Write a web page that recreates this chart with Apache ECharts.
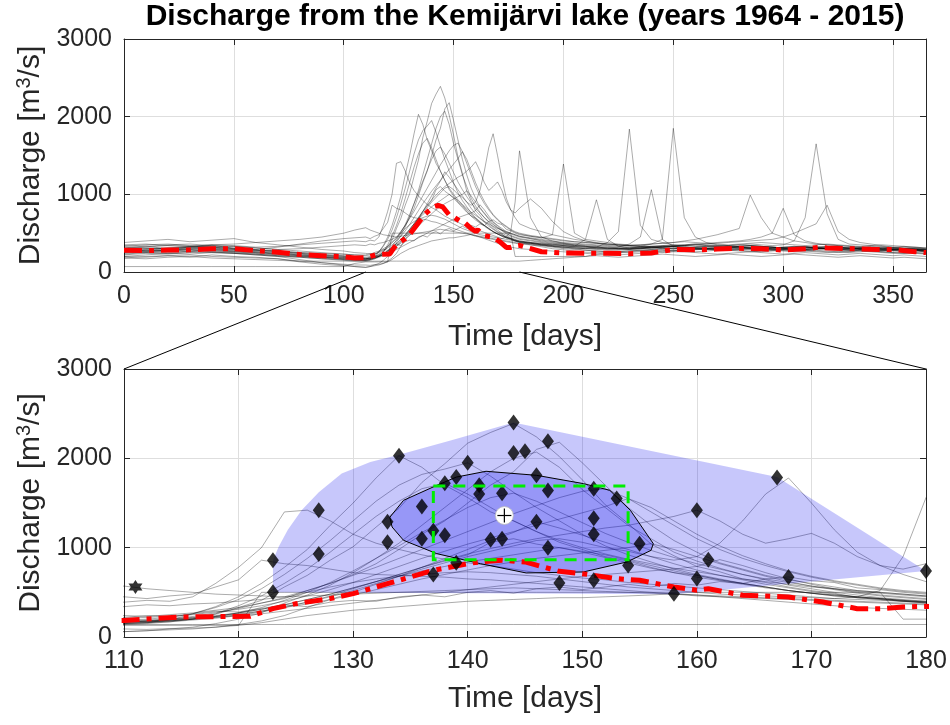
<!DOCTYPE html>
<html><head><meta charset="utf-8">
<script src="https://cdn.jsdelivr.net/npm/echarts@6/dist/echarts.min.js"></script>
<style>html,body{margin:0;padding:0;background:#fff}#c{width:950px;height:725px}</style>
</head><body><div id="c"></div>
<script>
// ---------- data ----------
const titleText = 'Discharge from the Kemijärvi lake (years 1964 - 2015)';
const xTicksTop = [0, 365, 50];
const xTicksBottom = [110, 180, 10];
const yTicks = [0, 3000, 1000];

const days = [0,10,20,30,40,50,60,70,80,90,100,105,
110,112,114,116,118,120,122,124,126,128,130,132,134,136,138,140,142,144,146,148,150,152,154,156,158,160,162,164,166,168,170,172,174,176,178,180,
185,190,195,200,205,210,215,220,225,230,235,240,245,250,255,260,265,270,275,280,285,290,295,300,305,310,315,320,325,330,335,340,345,350,355,360,365];

const y01 = [310,335,295,320,345,305,280,265,240,215,205,185,
175,170,195,215,255,330,410,560,690,860,1010,1230,1440,1730,1940,2170,2290,2390,2240,2020,1760,1480,1270,1040,910,790,730,650,610,560,520,490,440,430,400,380,
350,325,300,285,270,255,250,245,260,275,280,290,305,310,300,285,295,305,310,320,305,300,285,300,315,320,305,300,290,300,310,295,290,280,290,300,285];
const y02 = [250,270,280,260,290,270,250,230,210,190,170,160,
150,160,190,260,340,450,600,780,980,1250,1500,1780,2030,1900,1700,1560,1400,1300,1180,1060,980,900,850,780,720,690,640,600,560,520,490,470,450,430,410,390,
370,350,330,310,300,280,270,260,250,250,260,270,270,280,290,300,300,310,320,310,300,290,300,290,280,290,300,310,300,290,280,270,280,290,280,270,260];
const y03 = [380,400,420,390,410,430,380,350,320,290,270,250,
240,230,250,270,300,330,380,430,520,600,700,820,980,1150,1300,1500,1700,1850,2100,2180,1950,1700,1450,1250,1080,950,830,760,690,640,600,560,520,500,480,460,
430,400,380,360,340,330,320,310,300,290,300,310,320,330,340,350,340,330,340,350,360,350,340,350,400,700,1650,750,420,360,350,340,330,320,330,320,310];
const y04 = [200,220,240,230,250,240,220,200,160,120,90,70,
60,70,90,110,150,200,270,380,470,580,720,880,1050,1250,1450,1650,1850,2000,2070,1900,1650,1450,1250,1100,950,850,770,700,640,580,540,500,470,440,420,400,
380,360,340,320,310,300,320,380,520,1840,600,420,380,350,330,310,300,290,280,290,300,290,280,270,260,270,280,270,260,250,260,270,260,250,240,250,240];
const y05 = [290,300,310,330,320,300,290,270,250,230,210,200,
190,200,220,260,330,420,540,700,880,1080,1300,1520,1700,1820,1880,1950,1800,1620,1450,1300,1150,1020,920,840,760,700,650,600,560,520,490,470,450,430,410,400,
380,360,350,340,330,320,310,300,300,310,330,360,420,1850,700,450,380,350,340,330,320,310,300,310,320,330,320,310,300,290,300,310,300,290,280,290,280];
const y06 = [350,360,340,330,350,340,320,330,350,370,390,400,
390,410,400,450,600,780,1000,1400,1420,1300,1150,1050,980,920,870,830,800,760,720,690,660,640,610,590,570,550,530,510,490,470,450,430,420,410,400,390,
380,370,360,350,340,330,320,310,300,300,310,320,330,320,310,300,290,300,310,320,310,300,290,280,290,300,310,300,290,280,290,300,310,300,290,280,270];
const y07 = [260,280,270,290,300,280,260,240,220,200,180,170,
160,170,180,200,220,250,290,340,390,450,520,600,680,760,830,900,960,1020,1080,1100,1060,1000,960,900,860,900,1050,1300,1600,1780,1500,1200,950,800,700,620,
560,520,480,450,420,400,380,360,350,340,330,320,310,300,300,310,320,330,340,350,340,330,320,310,300,290,300,310,320,310,300,290,280,290,300,290,280];
const y08 = [300,290,310,320,300,290,280,260,240,220,200,190,
180,190,200,220,240,270,310,360,420,480,550,620,700,780,860,930,990,1050,1100,1140,1180,1220,1250,1300,1350,1420,1300,1150,1050,1100,1160,1050,900,800,760,820,
940,820,650,520,450,400,370,350,340,330,320,310,300,300,310,320,330,320,310,300,290,300,310,320,330,320,310,300,290,300,310,320,310,300,290,300,290];
const y09 = [330,350,360,340,320,330,310,290,300,320,340,350,
340,360,350,370,380,400,420,450,520,600,690,780,880,980,1080,1180,1280,1380,1470,1560,1630,1660,1550,1400,1250,1100,980,880,800,730,670,620,580,540,510,490,
460,440,480,1390,500,420,400,380,360,350,340,330,320,330,340,350,340,330,320,330,340,330,320,310,320,330,320,310,300,310,320,330,320,310,300,310,300];
const y10 = [220,240,230,250,260,240,230,210,190,170,150,140,
140,150,170,200,260,350,460,600,760,950,1150,1350,1520,1660,1720,1600,1450,1300,1180,1080,1000,930,870,820,770,730,690,650,620,590,560,540,520,500,480,460,
440,420,400,380,370,360,350,340,330,340,350,360,370,380,400,420,450,480,520,560,990,700,500,450,400,380,360,350,340,330,320,310,300,290,280,290,280];
const y11 = [180,200,210,190,220,200,190,170,130,100,80,70,
60,70,80,90,110,140,180,240,330,420,500,590,680,780,880,980,1080,1170,1290,1220,1140,1060,980,900,820,750,690,640,590,550,510,480,450,430,410,390,
370,350,340,330,330,420,930,420,330,310,300,290,280,270,280,290,300,290,280,270,260,270,280,290,280,270,260,250,260,270,280,270,260,250,240,250,240];
const y12 = [270,260,280,300,290,270,260,240,220,200,190,180,
170,180,190,210,230,260,290,330,370,420,470,530,590,650,700,750,800,840,880,910,940,970,1000,1045,980,900,820,750,680,620,570,530,490,460,440,420,
400,380,360,340,320,310,300,300,320,360,450,1060,420,330,310,300,290,280,290,300,310,320,310,300,290,280,290,300,310,300,290,280,270,280,290,280,270];
const y13 = [320,310,300,320,330,310,290,320,360,400,430,440,
450,430,460,480,560,640,860,820,800,760,720,700,690,680,670,650,640,620,600,580,560,540,520,500,480,460,450,440,430,420,410,400,390,380,370,360,
350,340,330,320,310,300,300,290,290,300,310,320,330,340,350,360,370,380,390,400,420,450,500,820,480,400,370,350,340,330,320,310,300,310,320,310,300];
const y14 = [240,260,250,270,280,260,240,220,200,180,160,150,
150,160,170,190,210,240,280,330,390,460,540,620,700,780,850,920,1060,1100,1040,1000,960,920,860,800,740,690,640,600,560,520,490,460,440,420,400,390,
370,350,330,320,310,300,290,280,280,290,300,310,320,330,340,350,360,370,380,390,400,410,420,450,500,560,620,860,520,420,380,360,340,320,310,300,290];
const y15 = [200,190,210,220,200,190,180,170,140,120,100,90,
90,85,95,100,110,130,160,200,240,270,300,320,340,360,380,400,410,420,430,440,440,450,460,470,485,470,450,430,410,390,370,350,330,320,310,300,
290,280,270,260,250,240,230,220,220,230,240,250,250,260,260,250,240,230,240,250,260,250,240,230,240,250,240,230,220,230,240,230,220,210,220,210,200];
const y16 = [260,250,270,280,260,250,230,210,200,190,180,170,
170,180,200,230,270,320,380,440,500,560,610,650,680,700,720,730,720,700,680,650,620,590,560,540,520,500,480,470,460,450,440,430,450,520,900,1560,
700,450,400,370,350,330,320,310,300,290,300,310,320,330,320,310,300,290,300,310,320,330,320,310,300,290,300,310,320,310,300,290,280,290,300,290,280];
const y17 = [70,70,70,70,70,70,70,70,70,70,70,110,
130,130,130,130,130,130,500,500,500,500,500,500,500,500,500,500,500,500,500,500,500,500,500,500,500,500,500,500,500,500,500,500,500,500,200,200,
200,200,200,200,200,200,230,250,260,270,280,270,260,270,280,290,300,290,280,290,300,310,300,290,280,290,300,290,280,270,280,290,280,270,260,270,260];
const y18 = [180,170,190,200,180,170,160,150,140,140,140,140,
140,140,140,140,140,140,140,140,140,140,140,140,140,140,140,140,140,140,140,140,140,140,140,140,140,140,140,140,140,140,140,140,140,140,140,140,
150,160,170,180,190,200,210,200,190,200,210,220,230,220,210,200,210,220,230,220,210,200,210,220,230,220,210,200,190,200,210,200,190,180,190,180,170];
const y19 = [280,300,290,310,320,300,280,270,250,240,230,220,
220,240,230,260,290,280,320,360,340,390,410,400,450,470,450,500,520,490,540,560,530,560,590,560,600,580,620,600,650,672,630,610,550,530,500,480,
460,440,420,400,390,380,370,360,350,340,330,320,310,300,310,320,330,340,330,320,310,300,290,300,310,320,310,300,290,280,290,300,290,280,270,280,270];
const y20 = [300,320,340,330,350,360,380,400,420,450,500,540,
570,540,520,500,480,470,460,450,460,470,480,490,500,510,520,530,540,550,540,530,520,510,500,490,480,470,460,450,440,430,420,410,400,390,380,370,
370,360,350,340,330,320,310,300,300,310,320,330,340,330,320,310,300,310,320,330,340,330,320,310,300,310,320,330,320,310,300,290,300,310,300,290,280];
const y21 = [260,280,300,290,270,260,250,230,210,190,170,160,
160,170,180,200,230,270,330,410,500,610,740,880,1020,1170,1310,1450,1560,1610,1520,1400,1280,1160,1060,970,890,820,760,700,650,610,570,540,510,490,470,450,
430,410,390,370,360,350,340,330,320,310,320,330,340,350,340,330,320,310,320,330,340,330,320,310,300,310,320,330,320,310,300,310,320,310,300,290,280];
const y22 = [340,330,350,360,340,330,310,290,270,250,230,220,
210,220,230,250,280,310,350,400,460,530,610,700,790,880,960,1040,1110,1180,1250,1320,1390,1460,1550,1450,1300,1150,1020,910,820,740,680,630,590,550,520,500,
470,450,430,410,390,380,370,360,350,340,350,360,370,380,390,380,370,360,350,360,370,380,370,360,350,340,350,360,350,340,330,340,350,340,330,320,310];
const y23 = [230,250,240,260,250,240,220,200,190,170,160,150,
150,160,180,200,230,270,310,360,420,480,550,620,680,740,790,840,880,920,960,1000,950,890,830,770,720,670,630,590,550,520,490,460,440,420,400,380,
360,340,320,300,290,280,270,260,250,260,270,280,290,280,270,260,270,280,290,280,270,260,270,280,290,280,270,260,250,260,270,260,250,240,250,240,230];
const y24 = [290,270,280,300,310,290,270,250,230,210,190,180,
170,180,190,200,220,240,260,290,320,350,380,410,440,470,500,530,560,590,620,650,680,700,720,740,760,790,866,800,720,650,590,540,500,470,450,430,
410,390,370,360,350,340,330,320,310,300,310,320,330,340,350,360,350,340,330,320,310,300,310,320,330,320,310,300,290,300,310,300,290,280,290,280,270];
const yearLines = [y01,y02,y03,y04,y05,y06,y07,y08,y09,y10,y11,y12,y13,y14,y15,y16,y17,y18,y19,y20,y21,y22,y23,y24];

// dash-dot red curve
const redDays = [0,10,20,30,40,50,60,70,80,90,100,105,110,115,121,123,125,128,130,133,137,140,141,143,145,148,150,153,155,158,160,161,164,168,171,174,176,178,180,190,200,210,220,230,240,250,260,270,280,290,300,310,316,320,330,340,350,360,365];
const redVals = [280,275,283,285,300,300,275,255,225,210,195,180,186,224,232,317,373,430,485,597,746,821,840,859,840,735,709,653,635,560,523,541,467,448,392,317,317,336,343,261,245,240,240,235,245,290,285,295,305,300,283,300,318,310,300,292,290,261,250];

// peak markers (bottom panel)
const peakDays = [123,123,127,127,133,133,134,136,136,137,137,138,138,139,139,140,141,141,142,143,143,144,144,145,146,146,147,147,147,148,151,151,151,151,153,154,155,158,160,160,161,167,168,180];
const peakVals = [860,500,1420,930,1290,1060,2030,1460,1100,1190,700,1720,1140,1790,830,1950,1700,1600,1090,1610,1100,2400,2060,2080,1810,1290,2190,1640,1000,605,1660,1330,1150,635,1550,800,1045,485,1420,655,866,1785,672,740];
const starDays = [111];
const starVals = [560];

// outer hull and core region
const hullDays = [123,123,123.5,124.3,125.5,127,129,131.5,134,138.5,144,167,180,158];
const hullVals = [500,860,1010,1200,1420,1620,1830,1960,2040,2200,2400,1790,740,478];
const coreDays = [133.2,134.4,137,139,141.6,146,150.1,152.4,154.2,156.2,156,153.9,150.1,145.1,141.1,137.3,134.4,133.4];
const coreVals = [1340,1530,1680,1790,1855,1810,1717,1642,1418,1045,970,840,728,717,821,933,1082,1231];
// dashed green box [day range], [value range]
const boxDays = [137,154];
const boxVals = [865,1690];
// centre marker
const centerDay = [143.2];
const centerVal = [1360];

// ---------- chart ----------
const FONT = '"Liberation Sans", Arial, Helvetica, sans-serif';
const AX = '#262626';
const GRIDC = '#dedede';
const pairs = (xs, ys) => xs.map((x, i) => [x, ys[i]]);

const G0 = {left:124, top:39, width:802, height:233};
const G1 = {left:124, top:369, width:802, height:268};

function mkX(grid, ext, labels, pos, gap) {
  return {
    type:'value', gridIndex:grid, min:ext[0], max:ext[1], interval:ext[2], position:pos,
    axisLine:{show:true, onZero:false, lineStyle:{color:AX, width:1}},
    axisTick:{show:true, inside:true, length:6, lineStyle:{color:AX}},
    axisLabel:{show:labels, color:AX, fontSize:25, fontFamily:FONT, margin:12,
      formatter: v => ((v - ext[0]) % ext[2] === 0 ? String(v) : '')},
    splitLine:{show:labels, lineStyle:{color:GRIDC, width:1}},
    name: labels ? 'Time [days]' : '', nameLocation:'middle', nameGap:gap,
    nameTextStyle:{color:AX, fontSize:30, fontFamily:FONT}
  };
}
function mkY(grid, labels, pos) {
  return {
    type:'value', gridIndex:grid, min:yTicks[0], max:yTicks[1], interval:yTicks[2], position:pos,
    axisLine:{show:true, onZero:false, lineStyle:{color:AX, width:1}},
    axisTick:{show:true, inside:true, length:6, lineStyle:{color:AX}},
    axisLabel:{show:labels, color:AX, fontSize:25, fontFamily:FONT, margin:12, formatter: v => String(v)},
    splitLine:{show:labels, lineStyle:{color:GRIDC, width:1}},
    name: labels ? '{t|Discharge [m}{s|3}{t|/s]}' : '', nameLocation:'middle', nameGap:61, nameRotate:90,
    nameTextStyle:{color:AX, fontSize:30, fontFamily:FONT, rich:{
      t:{fontSize:30, color:AX, fontFamily:FONT, lineHeight:32},
      s:{fontSize:20, color:AX, fontFamily:FONT, verticalAlign:'top', lineHeight:32}
    }}
  };
}

const series = [];
yearLines.forEach((vals) => {
  const d = pairs(days, vals);
  [0,1].forEach(g => series.push({
    type:'line', xAxisIndex:g, yAxisIndex:g, data:d, symbol:'none', showSymbol:false,
    silent:true, z:2, clip:true, animation:false,
    lineStyle:{color:'rgba(0,0,0,0.33)', width:1}
  }));
});

function polySeries(xs, ys, style, z) {
  const pts = pairs(xs, ys);
  return {
    type:'custom', xAxisIndex:1, yAxisIndex:1, data:pts, z:z, silent:true, clip:true,
    renderItem:(params, api) => {
      if (params.dataIndex !== 0) return null;
      return {type:'polygon', shape:{points: pts.map(p => api.coord(p))}, style:style};
    }
  };
}
series.push(polySeries(hullDays, hullVals, {fill:'rgba(0,0,235,0.22)'}, 3));
series.push(polySeries(coreDays, coreVals, {fill:'rgba(0,0,235,0.24)', stroke:'#000', lineWidth:1}, 4));

const redData = pairs(redDays, redVals);
[0,1].forEach(g => series.push({
  type:'line', xAxisIndex:g, yAxisIndex:g, data:redData, symbol:'none', silent:true, z:5,
  lineStyle:{color:'#ff0000', width:5, type:[18,7,5,7], cap:'butt'}
}));

series.push({
  type:'scatter', xAxisIndex:1, yAxisIndex:1, data:pairs(peakDays, peakVals), z:6, silent:true,
  symbol:'diamond', symbolSize:[12,16], itemStyle:{color:'#000'}
});
series.push({
  type:'scatter', xAxisIndex:1, yAxisIndex:1, data:pairs(starDays, starVals), z:6, silent:true,
  symbol:'path://M0,-10L2.9,-5L8.7,-5L5.8,0L8.7,5L2.9,5L0,10L-2.9,5L-8.7,5L-5.8,0L-8.7,-5L-2.9,-5Z',
  symbolSize:14, itemStyle:{color:'#000'}
});

// dashed green box
series.push({
  type:'custom', xAxisIndex:1, yAxisIndex:1, data:[[boxDays[0], boxVals[0]]], z:7, silent:true,
  renderItem:(params, api) => {
    const a = api.coord([boxDays[0], boxVals[1]]);
    const b = api.coord([boxDays[1], boxVals[0]]);
    return {type:'rect', shape:{x:a[0], y:a[1], width:b[0]-a[0], height:b[1]-a[1]},
      style:{fill:'none', stroke:'#00ee00', lineWidth:3, lineDash:[12,8]}};
  }
});
// centre marker: white disc with plus
series.push({
  type:'custom', xAxisIndex:1, yAxisIndex:1, data:pairs(centerDay, centerVal), z:8, silent:true,
  renderItem:(params, api) => {
    const c = api.coord([api.value(0), api.value(1)]);
    return {type:'group', children:[
      {type:'circle', shape:{cx:c[0], cy:c[1], r:9}, style:{fill:'#fff', stroke:'#bbb', lineWidth:0.8}},
      {type:'line', shape:{x1:c[0]-7, y1:c[1], x2:c[0]+7, y2:c[1]}, style:{stroke:'#000', lineWidth:1.2}},
      {type:'line', shape:{x1:c[0], y1:c[1]-7, x2:c[0], y2:c[1]+7}, style:{stroke:'#000', lineWidth:1.2}}
    ]};
  }
});

const chart = echarts.init(document.getElementById('c'), null, {renderer:'canvas'});
chart.setOption({
  animation:false,
  backgroundColor:'#fff',
  grid:[Object.assign({containLabel:false, outerBoundsMode:'none'}, G0),
        Object.assign({containLabel:false, outerBoundsMode:'none'}, G1)],
  xAxis:[mkX(0, xTicksTop, true, 'bottom', 50), mkX(1, xTicksBottom, true, 'bottom', 47),
         mkX(0, xTicksTop, false, 'top', 0), mkX(1, xTicksBottom, false, 'top', 0)],
  yAxis:[mkY(0, true, 'left'), mkY(1, true, 'left'), mkY(0, false, 'right'), mkY(1, false, 'right')],
  series:series
});

// zoom connector lines + title
const pA = chart.convertToPixel({xAxisIndex:0, yAxisIndex:0}, [xTicksBottom[0], yTicks[0]]);
const pB = chart.convertToPixel({xAxisIndex:1, yAxisIndex:1}, [xTicksBottom[0], yTicks[1]]);
const pC = chart.convertToPixel({xAxisIndex:0, yAxisIndex:0}, [xTicksBottom[1], yTicks[0]]);
const pD = chart.convertToPixel({xAxisIndex:1, yAxisIndex:1}, [xTicksBottom[1], yTicks[1]]);
chart.setOption({graphic:[
  {type:'line', silent:true, z:100, shape:{x1:pA[0], y1:pA[1], x2:pB[0], y2:pB[1]}, style:{stroke:'#000', lineWidth:1}},
  {type:'line', silent:true, z:100, shape:{x1:pC[0], y1:pC[1], x2:pD[0], y2:pD[1]}, style:{stroke:'#000', lineWidth:1}},
  {type:'text', silent:true, z:100, x:G0.left + G0.width/2, y:17,
   style:{text:titleText, textAlign:'center', textVerticalAlign:'middle', fill:'#000',
          font:'bold 30px "Liberation Sans", Arial, Helvetica, sans-serif'}}
]});
</script>
</body></html>
